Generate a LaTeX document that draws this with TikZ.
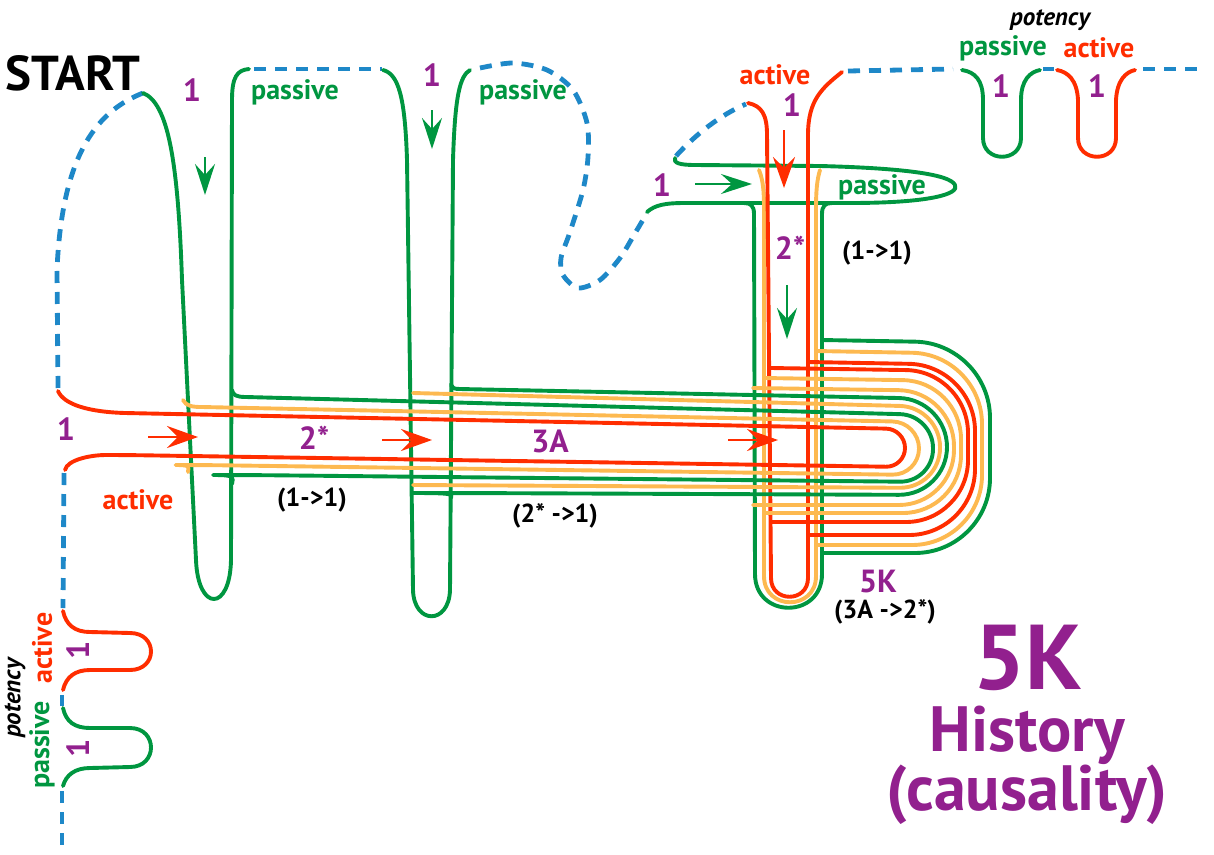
\documentclass[tikz,border=0pt]{standalone}
\usepackage{fontspec}
\setmainfont{PT Sans}
\usetikzlibrary{arrows.meta}
\definecolor{cGreen}{RGB}{0,150,64}
\definecolor{cRed}{RGB}{255,45,0}
\definecolor{cYellow}{RGB}{253,185,80}
\definecolor{cBlue}{RGB}{30,136,200}
\definecolor{cPurple}{RGB}{146,32,142}
\begin{document}
\begin{tikzpicture}[x=1pt,y=-1pt,line join=round,
  gline/.style={draw=cGreen,line width=3.9pt,line cap=round},
  rline/.style={draw=cRed,line width=3.9pt,line cap=round},
  yline/.style={draw=cYellow,line width=3.9pt,line cap=round},
  bdash/.style={draw=cBlue,line width=4.8pt,dash pattern=on 12pt off 9pt},
  rarrow/.style={draw=cRed,line width=2.8pt,-{Stealth[length=31pt,width=22pt,inset=11pt]}},
  garrow/.style={draw=cGreen,line width=2.8pt,-{Stealth[length=31pt,width=20pt,inset=11pt]}},
  num/.style={text=cPurple,font=\bfseries\fontsize{32}{32}\selectfont,inner sep=0pt},
  gtxt/.style={text=cGreen,font=\bfseries\fontsize{28}{28}\selectfont,inner sep=0pt},
  rtxt/.style={text=cRed,font=\bfseries\fontsize{28}{28}\selectfont,inner sep=0pt},
  ktxt/.style={text=black,font=\bfseries\fontsize{26}{26}\selectfont,inner sep=0pt},
  ptxt/.style={text=black,font=\bfseries\itshape\fontsize{25}{25}\selectfont,inner sep=0pt},
]
\useasboundingbox (0,0) rectangle (1214,854);

% ---------- dashed start and left legend line ----------
\draw[bdash] (143,93) .. controls (100,110) and (62,150) .. (57,270) -- (58,388);
\draw[bdash] (64,473) -- (63,608);
\draw[bdash] (62,695) -- (62,706);
\draw[bdash] (62,791) -- (62,854);

% left legend bumps
\draw[rline] (63,611) .. controls (66,625) and (75,632) .. (90,632) -- (130,633)
  .. controls (158,633) and (158,670) .. (130,670) -- (90,670)
  .. controls (75,670) and (66,677) .. (63,690);
\draw[gline] (63,708) .. controls (66,722) and (75,728) .. (90,728) -- (130,728)
  .. controls (158,728) and (158,767) .. (130,767) -- (90,768)
  .. controls (75,768) and (66,775) .. (63,786);

% ---------- first U ----------
\draw[gline] (143,93) .. controls (168,103) and (178,160) .. (182,280) -- (196,560)
  .. controls (198,612) and (230,612) .. (231,560) -- (232,100)
  .. controls (232,77) and (237,70) .. (249,69);
\draw[bdash] (254,69) -- (382,69);

% ---------- second U ----------
\draw[gline] (383,70) .. controls (398,74) and (405,95) .. (407,160) -- (413,590)
  .. controls (414,625) and (449,625) .. (450,590) -- (453,160)
  .. controls (455,95) and (460,76) .. (470,70);
\draw[bdash] plot[smooth] coordinates {(480,68) (513,63) (547,70) (573,90) (587,123) (588,157) (583,190) (570,232) (561,258) (563,275) (578,288) (600,280) (620,258) (634,235) (647,213)};

% ---------- passive loop ----------
\draw[gline] (647,212) .. controls (655,205) and (665,203) .. (685,203) -- (850,203)
  .. controls (930,203) and (960,194) .. (955,185)
  .. controls (950,174) and (900,168) .. (820,166) -- (695,165)
  .. controls (680,165) and (673,163) .. (675,158);
\draw[bdash] (676,156) .. controls (695,135) and (720,115) .. (746,104);

% ---------- vertical tube ----------
\draw[gline] (744,203) .. controls (751,203) and (754,206) .. (754,214) -- (755,574)
  .. controls (755,619) and (822,619) .. (822,574) -- (822,214)
  .. controls (822,206) and (825,203) .. (832,203);
\draw[yline] (759,170) .. controls (763,180) and (764,190) .. (764,210) -- (764,576)
  .. controls (764,611) and (816,611) .. (816,576) -- (816,210)
  .. controls (816,190) and (817,180) .. (820,170);
\draw[rline] (748,103) .. controls (762,106) and (767,115) .. (767,135) -- (771,578)
  .. controls (771,603) and (808,603) .. (808,578) -- (808,135)
  .. controls (808,100) and (822,88) .. (842,72);
\draw[bdash] (848,71) -- (953,69);

% ---------- outer D arcs from the vertical arms ----------
\draw[gline,rounded corners=75] (822,340) -- (990,343) -- (990,553) -- (822,553);
\draw[yline,rounded corners=70] (816,351) -- (982,354) -- (982,545) -- (816,545);
\draw[rline,rounded corners=66] (808,362) -- (975,365) -- (975,535) -- (808,535);
\draw[rline,rounded corners=62] (771,368) -- (968,371) -- (968,522) -- (771,522);
\draw[yline,rounded corners=58] (764,378) -- (961,381) -- (961,513) -- (764,513);
\draw[yline,rounded corners=55] (753,388) -- (954,391) -- (954,505) -- (753,505);

% ---------- horizontal tube ----------
\draw[gline] (451,385) .. controls (452,388) and (454,389) .. (460,389) [rounded corners=48] -- (947,399) -- (947,495) -- (460,493) [sharp corners] .. controls (454,493) and (452,494) .. (451,498);
\draw[yline] (413,393) [rounded corners=40] -- (940,407) -- (940,488) -- (413,485);
\draw[gline] (232,390) .. controls (233,395) and (236,397) .. (246,397) [rounded corners=33] -- (933,415) -- (933,482) -- (246,475) [sharp corners] .. controls (236,475) and (233,477) .. (232,484);
\draw[yline] (183,400) .. controls (186,406) and (192,407) .. (202,407) [rounded corners=26.5] -- (919,422) -- (919,475) -- (202,465) [sharp corners] .. controls (192,465) and (188,467) .. (188,472);
\draw[rline] (58,391) .. controls (64,405) and (90,412) .. (125,413) [rounded corners=19] -- (905,429) -- (905,467) -- (125,455) [sharp corners] .. controls (90,455) and (67,460) .. (65,470);

% ---------- top-right legend ----------
\draw[gline] (962,70) .. controls (975,72) and (983,80) .. (983,100) -- (983,138)
  .. controls (983,163) and (1021,163) .. (1021,138) -- (1021,100)
  .. controls (1021,80) and (1030,72) .. (1040,70);
\draw[bdash] (1043,69) -- (1054,69);
\draw[rline] (1057,70) .. controls (1068,72) and (1077,80) .. (1078,100) -- (1078,138)
  .. controls (1078,163) and (1116,163) .. (1116,138) -- (1116,100)
  .. controls (1117,80) and (1126,72) .. (1135,70);
\draw[bdash] (1143,69) -- (1202,69);

% ---------- arrows ----------
\coordinate (ra1s) at (148,437); \coordinate (ra1e) at (198,437);
\coordinate (ra2s) at (382,440); \coordinate (ra2e) at (432,440);
\coordinate (ra3s) at (728,440); \coordinate (ra3e) at (778,440);
\coordinate (ra4s) at (784,130); \coordinate (ra4e) at (784,188);
\coordinate (ga1s) at (205,157); \coordinate (ga1e) at (205,195);
\coordinate (ga2s) at (432,110); \coordinate (ga2e) at (432,149);
\coordinate (ga3s) at (695,184); \coordinate (ga3e) at (752,184);
\coordinate (ga4s) at (787,285); \coordinate (ga4e) at (787,339);
\draw[rarrow] (ra1s) -- (ra1e);
\draw[rarrow] (ra2s) -- (ra2e);
\draw[rarrow] (ra3s) -- (ra3e);
\draw[rarrow] (ra4s) -- (ra4e);
\draw[garrow] (ga1s) -- (ga1e);
\draw[garrow] (ga2s) -- (ga2e);
\draw[garrow] (ga3s) -- (ga3e);
\draw[garrow] (ga4s) -- (ga4e);

% ---------- texts ----------
\node[text=black,font=\bfseries\fontsize{49}{49}\selectfont,inner sep=0pt] (start) at (73,73) {START};
\node[num] (n1a) at (192,90) {1};
\node[gtxt] (pas1) at (295,92) {passive};
\node[num] (n1b) at (432,75) {1};
\node[gtxt] (pas2) at (523,92) {passive};
\node[rtxt] (act3) at (775,75) {active};
\node[num] (n1c) at (792,105) {1};
\node[num] (n1d) at (662,185) {1};
\node[gtxt] (pas3) at (882,187) {passive};
\node[num] (n2a) at (790,248) {2*};
\node[ktxt] (r11a) at (877,253) {(1->1)};
\node[num] (n1e) at (66,429) {1};
\node[rtxt] (act1) at (138,500) {active};
\node[num] (n2b) at (314,438) {2*};
\node[ktxt] (r11b) at (312,500) {(1->1)};
\node[num] (n3a) at (550,441) {3A};
\node[ktxt] (r2a) at (555,516) {(2* ->1)};
\node[num] (n5k) at (878,582) {5K};
\node[ktxt] (r3a) at (885,612) {(3A ->2*)};

% top-right legend texts
\node[ptxt] (pot1) at (1050,20) {potency};
\node[gtxt] (pas4) at (1003,48) {passive};
\node[rtxt] (act4) at (1099,48) {active};
\node[num] (n1f) at (1001,86) {1};
\node[num] (n1g) at (1097,86) {1};

% bottom-left legend texts
\node[rtxt,rotate=90] (act5) at (42,648) {active};
\node[gtxt,rotate=90] (pas5) at (42,745) {passive};
\node[ptxt,rotate=90] (pot2) at (15,698) {potency};
\node[num,rotate=90] (n1h) at (78,650) {1};
\node[num,rotate=90] (n1i) at (78,748) {1};

% big title
\node[text=cPurple,font=\bfseries\fontsize{92}{92}\selectfont,inner sep=0pt,anchor=base,text height=64pt,text depth=0pt] (big5k) at (1028,689) {5K};
\node[text=cPurple,font=\bfseries\fontsize{64}{59}\selectfont,inner sep=0pt,anchor=north,align=center] (hist) at (1027,706) {History\\(causality)};
\end{tikzpicture}
\end{document}
